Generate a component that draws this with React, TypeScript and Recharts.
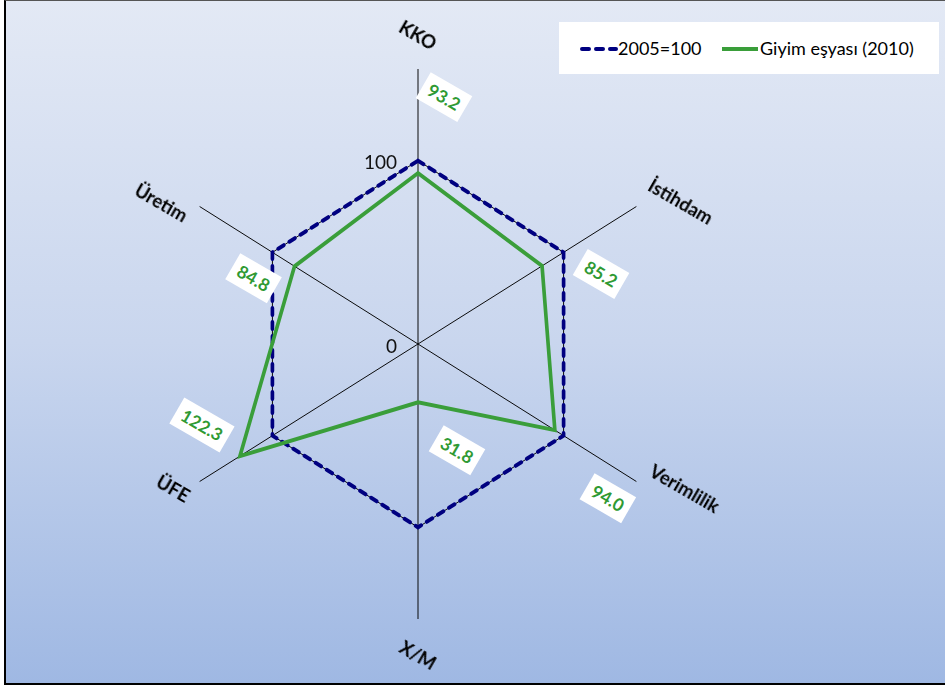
import React from 'react';
import {
  RadarChart,
  Radar,
  PolarGrid,
  PolarAngleAxis,
  PolarRadiusAxis
} from 'recharts';

// chart values
const axes = ['KKO', 'İstihdam', 'Verimlilik', 'X/M', 'ÜFE', 'Üretim'];
const baseValues = [100, 100, 100, 100, 100, 100];
const giyimValues = [93.2, 85.2, 94.0, 31.8, 122.3, 84.8];
const radiusTicks = [0, 100];
const seriesNames = ['2005=100', 'Giyim eşyası (2010)'];

// the original plot is a bit narrower than tall
const SX = 0.917;
const NAVY = '#000080';
const GREEN = '#3A9E3A';
const LABEL_GREEN = '#2F9A33';

// label placement, screen px
const axisLabelOffsets = [[0, -26], [38, -1], [42, 3], [0, 28], [-20, 3], [-32, 0]];
const dataLabelOffsets = [[26, -76], [59, 8], [53, 68], [39, 48], [-38, -31], [-41, 12]];

const renderAxisTick = (props: any) => {
  const { x, y, payload, index } = props;
  const [dx, dy] = axisLabelOffsets[index] || [0, 0];
  return (
    <g transform={`translate(${x},${y}) scale(${1 / SX},1) translate(${dx},${dy}) rotate(30)`}>
      <text
        textAnchor="middle"
        dominantBaseline="central"
        fontSize={18.5}
        fontWeight="bold"
        fill="#000"
        fontFamily="Lato, sans-serif"
      >
        {payload.value}
      </text>
    </g>
  );
};

const renderRadiusTick = (props: any) => {
  const { x, y, payload } = props;
  return (
    <g transform={`translate(${x},${y}) scale(${1 / SX},1)`}>
      <text
        x={-21}
        y={1}
        textAnchor="end"
        dominantBaseline="central"
        fontSize={19}
        fill="#111"
        fontFamily="Lato, sans-serif"
      >
        {payload.value}
      </text>
    </g>
  );
};

const GiyimShape = (props: any) => {
  const pts = props.points || [];
  return (
    <g>
      <polygon
        points={pts.map((p: any) => `${p.x},${p.y}`).join(' ')}
        fill="none"
        stroke={GREEN}
        strokeWidth={4}
        strokeLinejoin="miter"
      />
      {pts.map((p: any, i: number) => {
        const [dx, dy] = dataLabelOffsets[i];
        const txt = Number(p.value).toFixed(1);
        const w = txt.length * 10 + 8;
        return (
          <g key={i} transform={`translate(${p.x},${p.y}) scale(${1 / SX},1) translate(${dx},${dy}) rotate(30)`}>
            <rect x={-w / 2} y={-15} width={w} height={30} fill="#fff" />
            <text
              textAnchor="middle"
              dominantBaseline="central"
              fontSize={17.5}
              fontWeight="bold"
              fill={LABEL_GREEN}
              fontFamily="Lato, sans-serif"
            >
              {txt}
            </text>
          </g>
        );
      })}
    </g>
  );
};

export default function App() {
  const data = axes.map((a, i) => ({ axis: a, base: baseValues[i], giyim: giyimValues[i] }));

  return (
    <div style={{ position: 'absolute', left: 0, top: 0, width: 945, height: 688, overflow: 'hidden', fontFamily: 'Lato, sans-serif' }}>
      <div
        style={{
          position: 'absolute',
          left: 4,
          top: 0,
          width: 960,
          height: 685,
          boxSizing: 'border-box',
          borderLeft: '2px solid #000',
          borderBottom: '2px solid #000',
          borderTop: '1px solid #555',
          background: 'linear-gradient(to bottom, #e3e9f5 0%, #c9d6ee 50%, #9fb8e3 100%)'
        }}
      />
      <div style={{ position: 'absolute', left: 0, top: 0, width: 837, height: 688, transform: `scaleX(${SX})`, transformOrigin: '418px 344px' }}>
        <RadarChart width={837} height={688} data={data} cx={418} cy={344} outerRadius={275} margin={{ top: 0, right: 0, bottom: 0, left: 0 }}>
          <PolarGrid gridType="polygon" stroke="#000" strokeWidth={1} />
          <PolarAngleAxis dataKey="axis" tick={renderAxisTick} tickLine={false} axisLine={false} />
          <PolarRadiusAxis angle={90} domain={[0, 150]} ticks={radiusTicks} axisLine={false} tick={renderRadiusTick} />
          <Radar
            name={seriesNames[0]}
            dataKey="base"
            stroke={NAVY}
            strokeWidth={4}
            strokeDasharray="7 7"
            strokeLinecap="round"
            fill="none"
            fillOpacity={0}
            dot={false}
            isAnimationActive={false}
          />
          <Radar
            name={seriesNames[1]}
            dataKey="giyim"
            stroke={GREEN}
            fill="none"
            shape={GiyimShape}
            isAnimationActive={false}
          />
        </RadarChart>
      </div>
      <div style={{ position: 'absolute', left: 559, top: 22, width: 380, height: 52, background: '#fff', fontSize: 18, color: '#000' }}>
        <svg style={{ position: 'absolute', left: 21, top: 22 }} width={38} height={10}>
          <line x1={2} y1={5} x2={36} y2={5} stroke={NAVY} strokeWidth={4} strokeDasharray="7 7" strokeLinecap="round" />
        </svg>
        <span style={{ position: 'absolute', left: 59, top: 14, lineHeight: '24px' }}>{seriesNames[0]}</span>
        <svg style={{ position: 'absolute', left: 163, top: 22 }} width={36} height={10}>
          <line x1={0} y1={5} x2={36} y2={5} stroke={GREEN} strokeWidth={4} />
        </svg>
        <span style={{ position: 'absolute', left: 201, top: 14, lineHeight: '24px' }}>{seriesNames[1]}</span>
      </div>
    </div>
  );
}
